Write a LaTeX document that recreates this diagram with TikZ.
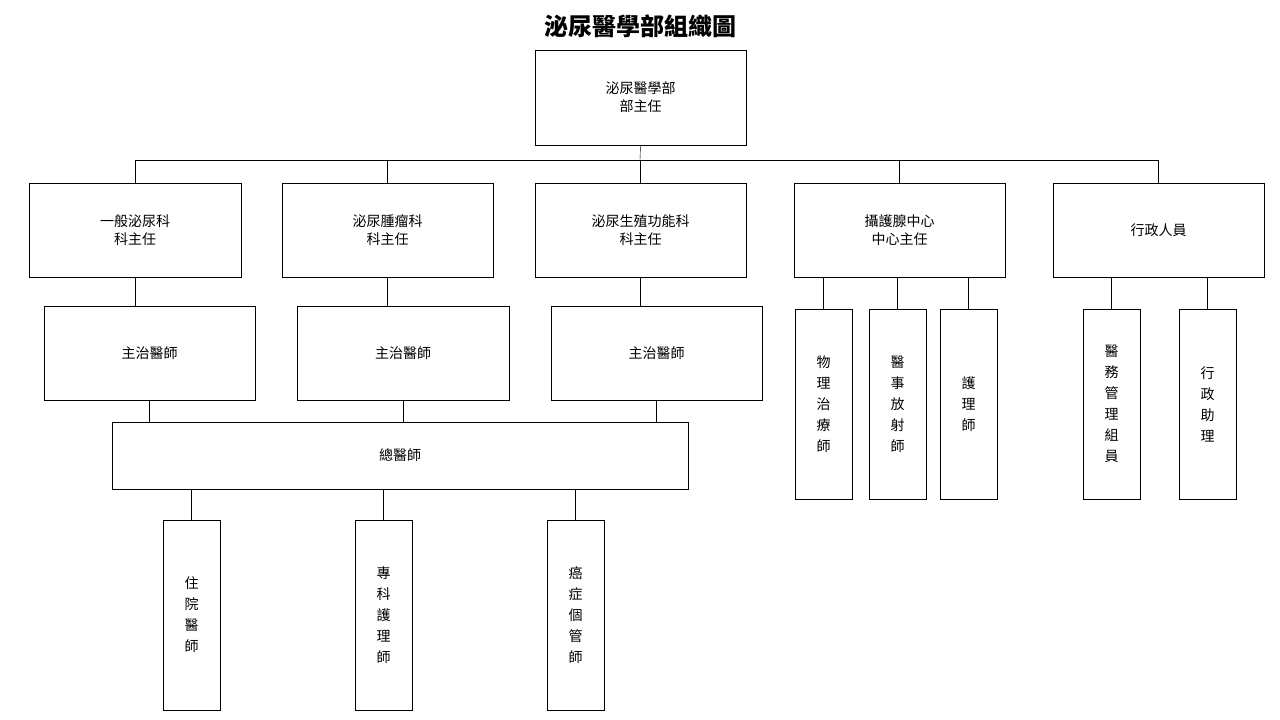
\documentclass[tikz,border=0pt]{standalone}
\usepackage{fontspec}
\setmainfont{Noto Sans CJK TC}
\begin{document}
\begin{tikzpicture}[x=1pt,y=-1pt,thin,
  box/.style={draw,inner sep=0pt,align=center,font=\fontsize{14}{18}\selectfont},
  vbox/.style={draw,inner sep=0pt,align=center,font=\fontsize{14}{21}\selectfont}]
\useasboundingbox (0,0) rectangle (1280,720);
\newcommand{\bx}[6][box]{\node[#1,minimum width=#4pt,minimum height=#5pt] (#2) at (#3) {#6};}

\node[font=\fontsize{24}{28}\selectfont\bfseries] (title) at (640,26) {泌尿醫學部組織圖};

\bx{top}{640.5,97.5}{211}{95}{泌尿醫學部\\部主任}
% departments
\bx{gen}{135,230}{212}{94}{一般泌尿科\\科主任}
\bx{onc}{387.5,230}{211}{94}{泌尿腫瘤科\\科主任}
\bx{rep}{640.5,230}{211}{94}{泌尿生殖功能科\\科主任}
\bx{pro}{899.5,230}{211}{94}{攝護腺中心\\中心主任}
\bx{adm}{1158.5,230}{211}{94}{行政人員}
% attending
\bx{atA}{149.5,353}{211}{94}{主治醫師}
\bx{atB}{403,353}{212}{94}{主治醫師}
\bx{atC}{656.5,353}{211}{94}{主治醫師}
\bx{chief}{400,455.5}{576}{67}{總醫師}
% lower columns
\bx[vbox]{res}{191.5,615}{57}{190}{住\\院\\醫\\師}
\bx[vbox]{np}{383.5,615}{57}{190}{專\\科\\護\\理\\師}
\bx[vbox]{cm}{575.5,615}{57}{190}{癌\\症\\個\\管\\師}
\bx[vbox]{pt}{823.5,404}{57}{190}{物\\理\\治\\療\\師}
\bx[vbox]{rad}{897.5,404}{57}{190}{醫\\事\\放\\射\\師}
\bx[vbox]{nur}{968.5,404}{57}{190}{護\\理\\師}
\bx[vbox]{mm}{1111.5,404}{57}{190}{醫\\務\\管\\理\\組\\員}
\bx[vbox]{asst}{1207.5,404}{57}{190}{行\\政\\助\\理}

\coordinate (bar) at (640,160);
\draw (top.south) -- (bar);
\draw (gen.north) -- (gen.north |- bar) -- (adm.north |- bar) -- (adm.north);
\foreach \n in {onc,rep,pro}
  \draw (\n.north) -- (\n.north |- bar);

\foreach \a/\b in {gen/atA,onc/atB,rep/atC}
  \draw (\b.north -| \a.south) -- (\a.south);
\foreach \a in {atA,atB,atC}
  \draw (\a.south) -- (\a.south |- chief.north);
\foreach \b in {res,np,cm}
  \draw (\b.north) -- (\b.north |- chief.south);
\foreach \b in {pt,rad,nur}
  \draw (\b.north) -- (\b.north |- pro.south);
\foreach \b in {mm,asst}
  \draw (\b.north) -- (\b.north |- adm.south);
\end{tikzpicture}
\end{document}
